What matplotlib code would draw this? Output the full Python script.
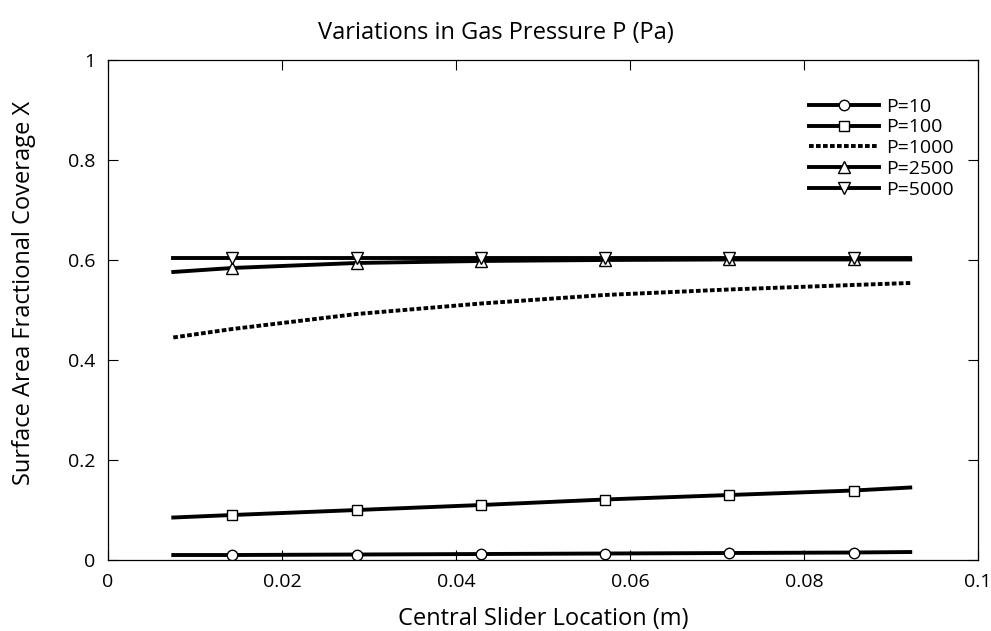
#!/usr/bin/env python3
# plot.py - surface coverage vs slider location for several gas pressures

import matplotlib.pyplot as plt

plt.rcParams["font.family"] = ["Open Sans", "DejaVu Sans"]

# slider locations (m); first and last are line ends, the rest carry markers
x = [0.0075, 0.0143, 0.0286, 0.0429, 0.0571, 0.0714, 0.0857, 0.0922]

cov_p10 = [0.010, 0.010, 0.011, 0.012, 0.013, 0.014, 0.015, 0.016]
cov_p100 = [0.085, 0.090, 0.100, 0.110, 0.121, 0.130, 0.139, 0.145]
cov_p1000 = [0.445, 0.462, 0.492, 0.513, 0.530, 0.541, 0.550, 0.554]
cov_p2500 = [0.576, 0.584, 0.594, 0.598, 0.600, 0.601, 0.601, 0.601]
cov_p5000 = [0.603, 0.603, 0.603, 0.603, 0.603, 0.603, 0.603, 0.603]

labels = ["P=10", "P=100", "P=1000", "P=2500", "P=5000"]

fig = plt.figure(figsize=(9.91, 6.31), dpi=100)
ax = fig.add_axes([0.109, 0.1125, 0.878, 0.7925])

marks = list(range(1, 7))
lw = 2.8
mk = dict(mfc="white", mec="black", mew=1.0, markevery=marks)
ax.plot(x, cov_p10, color="black", lw=lw, marker="o", ms=7.5, label=labels[0], **mk)
ax.plot(x, cov_p100, color="black", lw=lw, marker="s", ms=7, label=labels[1], **mk)
ax.plot(x, cov_p1000, color="black", lw=lw, ls=(0, (1.2, 0.6)), label=labels[2])
ax.plot(x, cov_p2500, color="black", lw=lw, marker="^", ms=8, label=labels[3], **mk)
ax.plot(x, cov_p5000, color="black", lw=lw, marker="v", ms=8, label=labels[4], **mk)

ax.set_xlim(0, 0.1)
ax.set_ylim(0, 1)
ax.set_xticks([0, 0.02, 0.04, 0.06, 0.08, 0.1])
ax.set_xticklabels(["0", "0.02", "0.04", "0.06", "0.08", "0.1"])
ax.set_yticks([0, 0.2, 0.4, 0.6, 0.8, 1])
ax.set_yticklabels(["0", "0.2", "0.4", "0.6", "0.8", "1"])
ax.tick_params(direction="in", top=True, right=True, length=7, width=0.8,
               labelsize=14, pad=9)
for s in ax.spines.values():
    s.set_linewidth(0.9)

ax.set_xlabel("Central Slider Location (m)", fontsize=17, labelpad=12)
ax.set_ylabel("Surface Area Fractional Coverage X", fontsize=17)
ax.yaxis.set_label_coords(-0.083, 0.535)
fig.text(0.5, 1 - 33 / 631, "Variations in Gas Pressure P (Pa)", fontsize=17,
         ha="center", va="center")

ax.legend(loc="upper right", bbox_to_anchor=(0.985, 0.948), frameon=False,
          fontsize=14, handlelength=3.6, labelspacing=0.14, handletextpad=0.35,
          borderaxespad=0.2)

fig.savefig("out.png", dpi=100)
